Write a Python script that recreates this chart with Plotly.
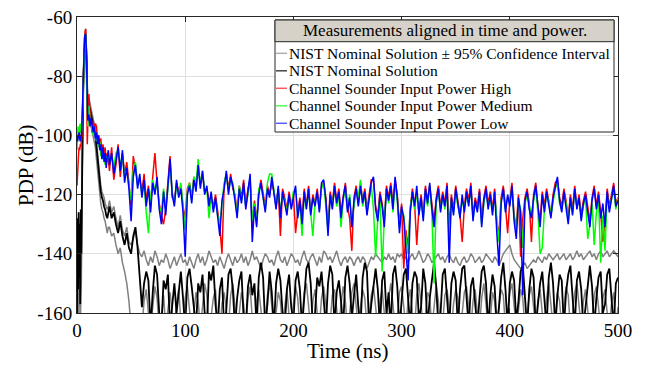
import plotly.graph_objects as go

# ---------------- data ----------------
time_ns = [0, 0.5, 1, 1.5, 2, 2.5, 3, 3.5, 4, 4.5, 5, 5.5, 6, 6.5, 7, 7.5, 8, 8.5, 9, 9.5] \
    + list(range(10, 30)) + list(range(30, 501, 2))

nist_upper = [
    -165, -135, -160, -130, -158, -138, -165, -128, -145, -108, -95, -85, -77, -70, -66, -65, -64, -67, -73, -83,
    -89, -88, -89, -91, -93, -94, -96, -98, -102, -106, -110, -114, -117, -119, -120, -121, -123, -124, -125, -124,
    -122, -126, -124, -128, -131, -127, -132, -134, -131, -136, -137, -135, -132, -137, -140,
    -141, -139, -142, -144, -141, -143, -139, -141, -144, -142, -143, -140, -142, -145, -143, -141, -144, -142, -140, -143,
    -142, -144, -141, -143, -145, -142, -140, -143, -141, -144, -142, -139, -141, -143, -142, -144, -141, -143, -145, -142, -140, -142, -144, -141, -143,
    -142, -140, -143, -141, -144, -142, -139, -142, -141, -143, -145, -142, -140, -141, -143, -142, -144, -141, -139, -142, -143, -141, -144, -142, -140,
    -141, -143, -142, -144, -141, -139, -142, -143, -141, -140, -142, -144, -141, -143, -139, -140, -142, -141, -143, -141, -139, -142, -144, -142, -141,
    -143, -141, -142, -144, -142, -141, -143, -141, -142, -145, -143, -141, -142, -140, -141, -142, -143, -141, -142, -140, -142, -141, -143, -140, -141,
    -140, -142, -141, -143, -141, -140, -142, -141, -139, -141, -143, -142, -140, -141, -143, -142, -141, -140, -142, -141, -143, -141, -140, -142, -143,
    -141, -143, -144, -142, -141, -143, -142, -140, -141, -143, -142, -141, -143, -142, -140, -141, -142, -143, -141, -142, -144, -142, -140, -139, -138,
    -137, -140, -142, -143, -144, -145, -144, -143, -145, -144, -143, -142, -143, -141, -142, -143, -141, -142, -140, -141, -142, -141, -140, -142, -141,
    -140, -142, -141, -140, -142, -141, -139, -141, -140, -142, -141, -140, -139, -141, -140, -142, -140, -139, -141, -140, -139, -141, -140, -139, -140,
    -141,
]

nist_lower = [
    -165, -160, -165, -158, -165, -160, -165, -155, -150, -120, -102, -92, -84, -77, -72, -69, -68, -71, -79, -90,
    -96, -94, -95, -97, -99, -100, -102, -104, -108, -112, -117, -121, -123, -125, -126, -128, -129, -131, -133, -131,
    -131, -134, -133, -137, -140, -138, -143, -146, -150, -156, -165, -165, -160, -165, -165,
    -165, -156, -152, -160, -165, -158, -151, -155, -165, -162, -154, -165, -158, -153, -160, -165, -157, -152, -163, -165,
    -155, -151, -159, -165, -160, -153, -156, -165, -158, -150, -154, -165, -161, -155, -152, -164, -165, -157, -153, -160, -165, -154, -150, -158, -165,
    -160, -153, -157, -165, -155, -151, -162, -165, -156, -152, -159, -165, -163, -154, -150, -157, -165, -160, -153, -156, -165, -158, -152, -161, -165,
    -157, -151, -155, -165, -162, -153, -150, -158, -165, -156, -152, -160, -165, -155, -151, -157, -165, -163, -154, -152, -159, -165, -157, -151, -156,
    -165, -160, -153, -150, -157, -165, -158, -152, -155, -165, -161, -154, -151, -159, -165, -156, -152, -160, -165, -155, -150, -157, -165, -162, -153,
    -151, -158, -165, -156, -152, -160, -165, -154, -150, -157, -165, -161, -153, -155, -165, -158, -151, -156, -165, -163, -154, -152, -159, -165, -157,
    -152, -155, -165, -160, -153, -151, -158, -165, -156, -152, -160, -165, -155, -150, -157, -165, -162, -153, -156, -165, -158, -152, -154, -165, -160,
    -153, -150, -157, -165, -159, -152, -155, -165, -161, -154, -151, -158, -165, -156, -152, -160, -165, -155, -150, -157, -165, -162, -153, -156, -165,
    -158, -151, -154, -165, -160, -153, -150, -157, -165, -156, -152, -159, -165, -162, -154, -151, -158, -165, -155, -152, -160, -165, -157, -153, -165,
    -158,
]

nist_nominal = [
    -160, -128, -152, -126, -148, -130, -157, -125, -140, -112, -98, -88, -80, -73, -69, -67, -66, -69, -76, -86,
    -92, -90, -91, -93, -95, -96, -98, -100, -104, -108, -113, -117, -119, -121, -122, -124, -125, -127, -128, -126,
    -124, -128, -126, -130, -133, -129, -134, -137, -133, -138, -140, -134, -131, -138, -150,
    -158, -150, -146, -149, -165, -153, -144, -147, -160, -165, -149, -152, -147, -165, -156, -150, -160, -152, -146, -155,
    -165, -148, -145, -151, -158, -165, -150, -153, -147, -160, -165, -146, -149, -144, -157, -165, -152, -148, -165, -159, -147, -145, -152, -165, -155,
    -149, -146, -162, -165, -151, -147, -154, -150, -165, -148, -143, -148, -165, -157, -146, -153, -165, -150, -145, -149, -160, -165, -152, -147, -158,
    -163, -149, -146, -152, -165, -155, -145, -143, -150, -165, -160, -148, -151, -146, -158, -165, -150, -144, -147, -165, -153, -149, -156, -165, -148,
    -144, -150, -162, -154, -147, -158, -165, -148, -143, -146, -165, -157, -150, -145, -152, -165, -149, -146, -160, -153, -165, -147, -144, -151, -165,
    -156, -147, -145, -153, -165, -150, -146, -148, -162, -158, -145, -150, -165, -155, -148, -143, -151, -165, -160, -147, -145, -154, -165, -150, -146,
    -149, -165, -152, -145, -144, -156, -165, -151, -148, -157, -165, -155, -146, -144, -150, -165, -154, -147, -151, -165, -158, -148, -143, -152, -165,
    -150, -146, -149, -163, -156, -146, -144, -155, -165, -152, -145, -148, -165, -157, -150, -146, -158, -165, -148, -143, -150, -165, -154, -147, -149,
    -165, -153, -147, -144, -155, -165, -149, -146, -152, -165, -158, -150, -144, -151, -165, -155, -148, -146, -160, -157, -147, -145, -153, -165, -150,
    -148,
]

power_high = [
    -117, -112, -108, -106, -104, -105, -103, -104, -102, -100, -94, -86, -78, -71, -67, -65, -64, -68, -80, -103,
    -96, -86, -92, -97, -99, -95, -98, -96, -97, -102, -100, -104, -101, -106, -103, -107, -104, -109, -106, -108,
    -112, -104, -115, -110, -103,
    -114, -106, -113, -109, -116,
    -124, -107, -112, -116, -115,
    -119, -113, -122, -117, -124,
    -114, -106, -116, -123, -127,
    -130, -125, -115, -107, -121,
    -122, -116, -119, -117, -124,
    -128, -118, -116, -121, -114,
    -117, -111, -116, -113, -119,
    -118, -122, -121, -124, -120,
    -126, -131, -140, -117, -113,
    -118, -113, -118, -120, -126,
    -117, -121, -115, -124, -118,
    -115, -131, -122, -129, -119,
    -115, -120, -124, -117, -120,
    -116, -119, -124, -118, -134,
    -118, -121, -125, -119, -124,
    -120, -133, -126, -121, -128,
    -118, -124, -117, -126, -120,
    -123, -118, -125, -117, -116,
    -121, -131, -119, -123, -116,
    -122, -118, -126, -120, -116,
    -124, -128, -139, -121, -117,
    -123, -116, -122, -118, -125,
    -120, -115, -115, -124, -127,
    -119, -123, -129, -117, -121,
    -116, -123, -115, -120, -130,
    -123, -145, -132, -138, -125,
    -118, -123, -137, -125, -120,
    -127, -117, -122, -117, -124,
    -129, -121, -117, -124, -119,
    -123, -116, -131, -120, -125,
    -117, -122, -127, -136, -124,
    -118, -122, -116, -127, -121,
    -124, -118, -128, -121, -117,
    -123, -119, -125, -118, -130,
    -133, -121, -117, -124, -133,
    -122, -116, -127, -131, -120,
    -141, -128, -121, -118, -123,
    -136, -120, -116, -124, -129,
    -119, -124, -118, -122, -127,
    -120, -116, -115, -121, -124,
    -118, -122, -128, -120, -125,
    -117, -124, -120, -127, -122,
    -119, -124, -129, -121, -117,
    -124, -119, -126, -136, -129,
    -118, -124, -120, -116, -123,
    -121,
]

power_medium = [
    -105, -100, -97, -98, -100, -97, -96, -99, -99, -97, -92, -85, -78, -72, -68, -66, -66, -71, -83, -95,
    -97, -90, -95, -96, -98, -100, -97, -100, -102, -101, -104, -102, -107, -104, -108, -106, -110, -107, -109, -106,
    -108, -107, -111, -106, -105,
    -110, -107, -114, -112, -117,
    -122, -112, -109, -117, -114,
    -120, -116, -126, -133, -121,
    -115, -119, -116, -124, -126,
    -118, -125, -118, -110, -119,
    -123, -117, -120, -116, -125,
    -132, -119, -116, -122, -114,
    -116, -108, -117, -112, -119,
    -118, -128, -120, -125, -122,
    -127, -130, -123, -116, -113,
    -119, -115, -116, -121, -127,
    -117, -122, -118, -124, -120,
    -114, -129, -123, -130, -118,
    -117, -121, -125, -116, -113,
    -113, -119, -124, -118, -126,
    -120, -122, -126, -121, -124,
    -119, -118, -127, -123, -134,
    -120, -124, -119, -126, -134,
    -122, -120, -125, -118, -116,
    -123, -132, -121, -124, -118,
    -124, -120, -131, -122, -118,
    -125, -120, -129, -123, -119,
    -121, -115, -124, -120, -126,
    -122, -117, -125, -141, -128,
    -121, -146, -128, -119, -123,
    -118, -126, -116, -122, -131,
    -125, -127, -135, -140, -124,
    -120, -125, -119, -126, -122,
    -128, -119, -124, -117, -126,
    -150, -123, -119, -125, -121,
    -125, -118, -136, -122, -126,
    -119, -124, -127, -122, -125,
    -120, -123, -118, -128, -123,
    -125, -120, -130, -123, -119,
    -124, -121, -126, -120, -128,
    -136, -122, -119, -125, -121,
    -123, -118, -128, -132, -122,
    -125, -138, -123, -120, -124,
    -127, -122, -118, -126, -140,
    -138, -125, -120, -122, -127,
    -122, -118, -116, -123, -125,
    -120, -123, -129, -122, -126,
    -119, -124, -122, -128, -124,
    -121, -135, -130, -123, -137,
    -126, -121, -143, -127, -139,
    -120, -125, -122, -118, -125,
    -121,
]

power_low = [
    -100, -102, -101, -99, -99, -101, -102, -100, -100, -97, -90, -83, -76, -70, -67, -66, -66, -70, -80, -92,
    -95, -93, -97, -94, -96, -99, -97, -101, -99, -103, -100, -105, -103, -108, -104, -109, -106, -111, -107, -105,
    -110, -106, -113, -108, -104,
    -112, -105, -116, -111, -118,
    -129, -114, -110, -118, -113,
    -121, -115, -124, -118, -126,
    -116, -120, -114, -125, -130,
    -119, -127, -117, -108, -120,
    -124, -115, -121, -118, -126,
    -141, -120, -117, -123, -115,
    -119, -110, -118, -112, -120,
    -117, -124, -119, -126, -121,
    -128, -134, -122, -118, -112,
    -120, -114, -117, -122, -128,
    -118, -123, -116, -125, -119,
    -113, -136, -124, -131, -120,
    -116, -122, -126, -118, -121,
    -114, -120, -125, -117, -128,
    -119, -123, -127, -120, -125,
    -121, -117, -128, -122, -130,
    -119, -125, -118, -127, -121,
    -124, -119, -126, -116, -115,
    -122, -134, -120, -125, -117,
    -123, -119, -128, -121, -117,
    -126, -121, -131, -122, -118,
    -124, -117, -123, -119, -127,
    -121, -116, -114, -125, -129,
    -120, -124, -131, -118, -122,
    -117, -125, -114, -121, -133,
    -124, -128, -138, -149, -126,
    -119, -124, -117, -127, -121,
    -129, -118, -123, -116, -125,
    -131, -122, -118, -126, -120,
    -124, -117, -143, -121, -127,
    -118, -123, -128, -120, -126,
    -119, -124, -117, -129, -122,
    -126, -119, -131, -122, -118,
    -125, -120, -127, -119, -133,
    -144, -123, -118, -126, -120,
    -124, -117, -129, -135, -121,
    -126, -154, -122, -119, -125,
    -128, -121, -117, -125, -131,
    -120, -126, -119, -123, -128,
    -121, -117, -114, -122, -126,
    -119, -124, -130, -121, -127,
    -118, -125, -121, -129, -123,
    -120, -126, -131, -122, -118,
    -125, -120, -128, -123, -131,
    -119, -126, -121, -117, -124,
    -122,
]

x_ticks = [0, 100, 200, 300, 400, 500]
y_ticks = [-160, -140, -120, -100, -80, -60]

legend_title = "Measurements aligned in time and power."
legend_names = [
    "NIST Nominal Solution \u00b1 95% Confidence Interval",
    "NIST Nominal Solution",
    "Channel Sounder Input Power High",
    "Channel Sounder Input Power Medium",
    "Channel Sounder Input Power Low",
]

# ---------------- figure ----------------
FONT = "Liberation Serif"
GRAY = "rgb(128,128,128)"

fig = go.Figure()
series = [
    (nist_upper, GRAY, 1.5), (nist_lower, GRAY, 1.5), (nist_nominal, "black", 1.8),
    (power_high, "rgb(255,0,0)", 1.5), (power_medium, "rgb(0,255,0)", 1.5), (power_low, "rgb(0,0,255)", 1.5),
]
for ys, col, w in series:
    fig.add_trace(go.Scatter(x=time_ns, y=ys, mode="lines",
                             line=dict(color=col, width=w), showlegend=False,
                             hoverinfo="skip"))

W, H = 654, 365
OFF = 8  # page body margin offsets the figure inside the window
# plot area in window pixels
L, R, T, B = 77, 618, 17, 313


def px_x(p):
    return (p - L) / (R - L)


def px_y(p):
    return (B - p) / (B - T)


shapes = []
annotations = []
# legend box and header
bx0, bx1, by0, by1, hy = 275, 614, 20, 132, 41.7
shapes.append(dict(type="rect", xref="paper", yref="paper", layer="above",
                   x0=px_x(bx0), x1=px_x(bx1), y0=px_y(by1), y1=px_y(by0),
                   fillcolor="white", line=dict(color="rgb(38,38,38)", width=1)))
shapes.append(dict(type="rect", xref="paper", yref="paper", layer="above",
                   x0=px_x(bx0), x1=px_x(bx1), y0=px_y(hy), y1=px_y(by0),
                   fillcolor="rgb(214,210,201)", line=dict(color="rgb(38,38,38)", width=1)))
annotations.append(dict(xref="paper", yref="paper", x=px_x((bx0 + bx1) / 2), y=px_y(31),
                        text=legend_title, showarrow=False, xanchor="center", yanchor="middle",
                        font=dict(family=FONT, size=17, color="black")))
legend_colors = ["rgb(175,175,175)", "rgb(70,70,70)", "rgb(255,90,90)", "rgb(90,255,90)", "rgb(90,90,255)"]
for i, (name, col) in enumerate(zip(legend_names, legend_colors)):
    yy = 53.3 + 17.5 * i
    shapes.append(dict(type="line", xref="paper", yref="paper", layer="above",
                       x0=px_x(276), x1=px_x(287), y0=px_y(yy), y1=px_y(yy),
                       line=dict(color=col, width=1.5)))
    annotations.append(dict(xref="paper", yref="paper", x=px_x(286.5), y=px_y(yy),
                            text=name, showarrow=False, xanchor="left", yanchor="middle",
                            font=dict(family=FONT, size=15.5, color="black")))

# axis titles
annotations.append(dict(xref="paper", yref="paper", x=0.5, y=px_y(351),
                        text="Time (ns)", showarrow=False, xanchor="center", yanchor="middle",
                        font=dict(family=FONT, size=21, color="black")))
annotations.append(dict(xref="paper", yref="paper", x=px_x(26), y=0.5, textangle=-90,
                        text="PDP (dB)", showarrow=False, xanchor="center", yanchor="middle",
                        font=dict(family=FONT, size=21, color="black")))

axis_common = dict(
    showline=True, linecolor="rgb(38,38,38)", linewidth=1, mirror="ticks",
    ticks="inside", ticklen=5, tickcolor="rgb(38,38,38)",
    showgrid=True, gridcolor="rgb(223,223,223)", gridwidth=1, zeroline=False,
    tickfont=dict(family=FONT, size=19, color="black"), automargin=False,
    ticklabeloverflow="allow",
)

fig.update_layout(
    width=W, height=H,
    margin=dict(l=L - OFF, r=W + OFF - R, t=T - OFF, b=H + OFF - B),
    paper_bgcolor="white", plot_bgcolor="white",
    font=dict(family=FONT, color="black"),
    shapes=shapes, annotations=annotations,
    showlegend=False,
    xaxis=dict(range=[0, 500], tickvals=x_ticks, ticktext=[str(v) for v in x_ticks],
               **axis_common),
    yaxis=dict(range=[-160, -60], tickvals=y_ticks, ticktext=[str(v) for v in y_ticks],
               **axis_common),
)

fig.write_html("out.html")
